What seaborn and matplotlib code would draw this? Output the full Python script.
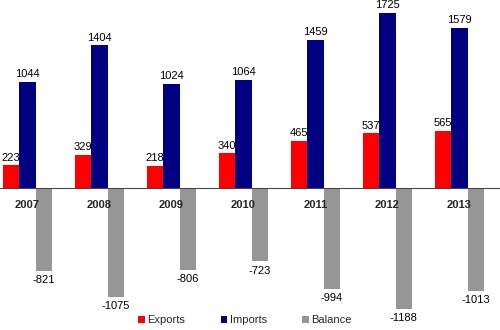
import numpy as np
import pandas as pd
import matplotlib
matplotlib.use("Agg")
import matplotlib.pyplot as plt
import seaborn as sns
from matplotlib.patches import Patch

years = ["2007", "2008", "2009", "2010", "2011", "2012", "2013"]
exports = [223, 329, 218, 340, 465, 537, 565]
imports = [1044, 1404, 1024, 1064, 1459, 1725, 1579]
balance = [-821, -1075, -806, -723, -994, -1188, -1013]
series = ["Exports", "Imports", "Balance"]
colors = ["#ff0000", "#000080", "#969696"]

df = pd.DataFrame({
    "year": years * 3,
    "series": sum([[s] * len(years) for s in series], []),
    "value": exports + imports + balance,
})

sns.set_theme(style="white")
plt.rcParams["font.family"] = ["Liberation Sans", "DejaVu Sans"]

fig = plt.figure(figsize=(5.0, 3.3), dpi=100)
ax = fig.add_axes([0, 0, 1, 1])

sns.barplot(data=df, x="year", y="value", hue="series", hue_order=series,
            palette=colors, width=0.68, gap=0, dodge=True, saturation=1,
            edgecolor="none", linewidth=0, errorbar=None, legend=False, ax=ax)

# value labels: above the positive bars, below the negative balance bars
for cont, pad in zip(ax.containers, [2, 2, 3]):
    ax.bar_label(cont, fmt="%d", padding=pad, fontsize=8, color="black")

ax.set_xlim(-0.382, 6.563)
ax.set_ylim(-1399, 1852)

for s in ["top", "right", "left"]:
    ax.spines[s].set_visible(False)
ax.spines["bottom"].set_position(("data", 0))
ax.spines["bottom"].set_color("#444444")
ax.spines["bottom"].set_linewidth(0.8)
ax.spines["bottom"].set_zorder(3)
ax.set_yticks([])
ax.set_xlabel("")
ax.set_ylabel("")

ax.set_xticks(range(len(years)))
ax.set_xticklabels(years, fontsize=8, fontweight="bold")
ax.tick_params(axis="x", which="major", length=0, pad=9)
ax.set_xticks(np.arange(len(years)) + 0.5, minor=True)
ax.tick_params(axis="x", which="minor", length=3, width=0.8, color="#444444",
               direction="out")
ax.set_axisbelow(False)

handles = [Patch(facecolor=c, edgecolor="none") for c in colors]
fig.legend(handles, series, loc="center", bbox_to_anchor=(0.49, 0.03),
           ncol=3, frameon=False, fontsize=8, handlelength=0.6,
           handleheight=0.6, handletextpad=0.2, columnspacing=3.2)

fig.savefig("out.png", dpi=100)
